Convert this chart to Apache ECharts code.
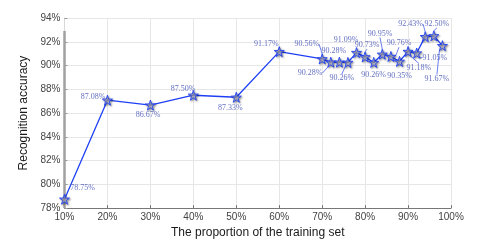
<!DOCTYPE html>
<html><head><meta charset="utf-8">
<script src="https://cdn.jsdelivr.net/npm/echarts@6/dist/echarts.min.js"></script>
<style>html,body{margin:0;padding:0;background:#fff}#c{width:501px;height:244px}</style>
</head><body><div id="c"></div>
<script>
var proportions = [10,20,30,40,50,60,70,72,74,76,78,80,82,84,86,88,90,92,94,96,98];
var accuracy = [78.75,87.08,86.67,87.50,87.33,91.17,90.56,90.28,90.28,90.26,91.09,90.73,90.26,90.95,90.76,90.35,91.18,91.05,92.43,92.50,91.67];
var xTicks = [10,20,30,40,50,60,70,80,90,100];
var yTicks = [78,80,82,84,86,88,90,92,94];

// label offsets (style): label centre relative to marker centre, px
var labelOffsets = [[18,-11.5],[-14.4,-3],[-2.4,10],[-10.3,-6.8],[-6,10.4],[-13,-7.3],[-15.4,-14.7],[-20.7,10.9],[-5.6,-11.2],[-6.2,15.8],[-10.5,-12.6],[1.9,-11.7],[0,12.5],[-2.3,-20.7],[8.1,-13.3],[0.2,14.6],[10.9,16.1],[18.3,4.5],[-14.6,-12.7],[3.1,-11.9],[-5.5,32.8]];
var leader = [0,0,0,0,0,0,1,1,0,1,0,1,0,1,1,0,1,1,1,1,1];

var star = 'path://M50,0 L61,35 L98,35 L68,57 L79,91 L50,70 L21,91 L32,57 L2,35 L39,35 Z';
var blue = '#1f3ff5';
var labelColor = '#6470c0';

var data = proportions.map(function(p,i){
  return {value:[p, accuracy[i]], labelLine:{show: !!leader[i]}};
});

var chart = echarts.init(document.getElementById('c'), null, {renderer:'canvas'});
chart.setOption({
  animation:false,
  backgroundColor:'#fff',
  grid:{left:64.5, right:50, top:18, bottom:32, containLabel:false},
  xAxis:{
    type:'value', min:10, max:100, interval:10,
    name:'The proportion of the training set', nameLocation:'middle', nameGap:17,
    nameTextStyle:{fontFamily:'Liberation Sans', fontSize:12, color:'#1a1a1a'},
    axisLine:{show:true, onZero:false, lineStyle:{color:'#777', width:1}},
    axisTick:{show:true, inside:true, length:3, lineStyle:{color:'#777'}},
    axisLabel:{formatter:'{value}%', fontFamily:'Liberation Sans', fontSize:10, color:'#444', margin:4},
    splitLine:{show:true, lineStyle:{color:'#e6e6e6', width:1}}
  },
  yAxis:{
    type:'value', min:78, max:94, interval:2,
    name:'Recognition accuracy', nameLocation:'middle', nameGap:32, nameRotate:90,
    nameTextStyle:{fontFamily:'Liberation Sans', fontSize:12, color:'#1a1a1a'},
    axisLine:{show:true, onZero:false, lineStyle:{color:'#d8d8d8', width:1}},
    axisTick:{show:true, inside:true, length:3, lineStyle:{color:'#999'}},
    axisLabel:{formatter:'{value}%', fontFamily:'Liberation Sans', fontSize:10, color:'#444', margin:4},
    splitLine:{show:true, lineStyle:{color:'#e6e6e6', width:1}}
  },
  series:[
    {
      type:'line', silent:true, symbol:'none', z:1,
      data:[[10,78],[10,92.9]],
      lineStyle:{color:'#a0a0a0', width:2.5}
    },
    {
      type:'line', data:data, z:3,
      symbol:star, symbolSize:10,
      lineStyle:{color:blue, width:1.3},
      itemStyle:{color:'rgba(185,185,200,0.7)', borderColor:blue, borderWidth:0.9,
        shadowColor:'rgba(0,0,0,0.45)', shadowBlur:2, shadowOffsetX:1, shadowOffsetY:1},
      label:{show:true, position:'inside',
        formatter:function(p){return p.value[1].toFixed(2)+'%';},
        fontFamily:'Liberation Serif', fontSize:8, color:labelColor},
      labelLine:{show:false, lineStyle:{color:'#4660ea', width:0.8}, smooth:false},
      labelLayout:function(params){
        var r = params.rect, o = labelOffsets[params.dataIndex];
        var cx = r.x + r.width/2, cy = r.y + r.height/2;
        return {x: cx + o[0], y: cy + o[1], align:'center', verticalAlign:'middle', hideOverlap:false};
      }
    }
  ]
});
</script></body></html>
